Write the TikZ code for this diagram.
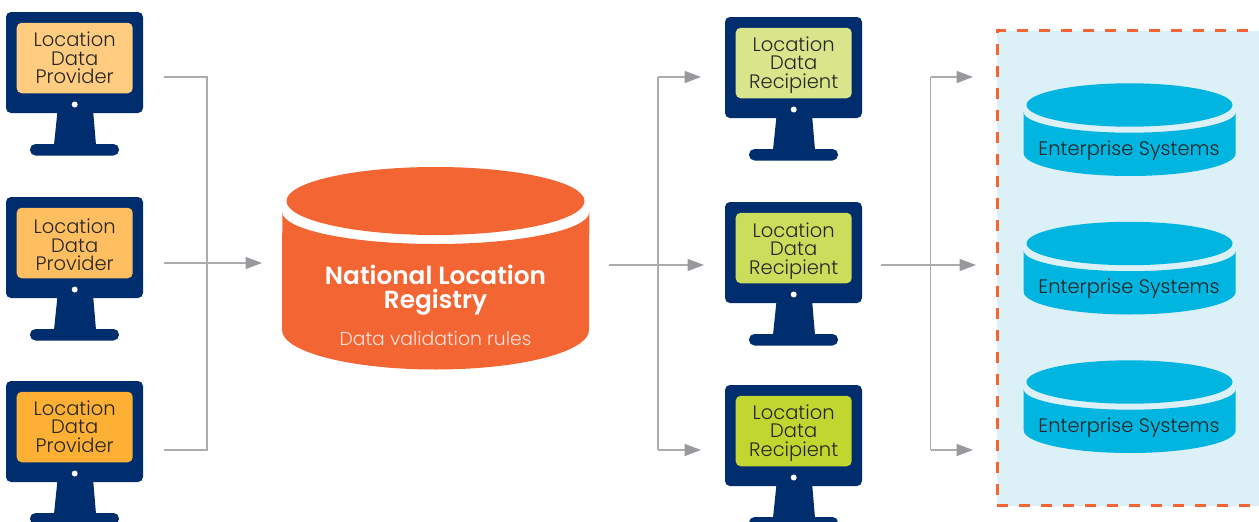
\documentclass[tikz,border=0pt]{standalone}
\usepackage{fontspec}
\setmainfont{Poppins}[UprightFont=* Light,BoldFont=* SemiBold]
\usetikzlibrary{arrows.meta}
\definecolor{navy}{HTML}{002D6D}
\definecolor{regorange}{HTML}{F46534}
\definecolor{entblue}{HTML}{00B5E0}
\definecolor{panelblue}{HTML}{DCF0F8}
\definecolor{wiregrey}{HTML}{ABACAE}
\definecolor{tipgrey}{HTML}{97999C}
\definecolor{provA}{HTML}{FFCC80}
\definecolor{provB}{HTML}{FFBF60}
\definecolor{provC}{HTML}{FDB033}
\definecolor{recA}{HTML}{D9E58A}
\definecolor{recB}{HTML}{CCDD5B}
\definecolor{recC}{HTML}{C1D72F}
\tikzset{
    wire/.style={draw=wiregrey,line width=1.5pt},
    wirearrow/.style={wire,-{Triangle[length=16.5pt,width=12pt,color=tipgrey]}},
    screentext/.style={text=black!85,align=center,font=\fontsize{19.5}{18.5}\selectfont},
    pics/monitor/.style n args={3}{code={
        \fill[navy,rounded corners=5pt] (6,12) rectangle (143,113);
        \fill[navy] (57.3,113) -- (93.3,113) -- (96,145) -- (54,145) -- cycle;
        \fill[navy,rounded corners=5.5pt] (30,144) rectangle (119,155.5);
        \fill[white] (74.7,104.5) circle (3);
        \node[fill=#1,rounded corners=5pt,minimum width=116pt,minimum height=70.5pt,
            inner sep=0pt] (-screen) at (74.7,58) {};
        \node[screentext,inner sep=0pt] (-label) at (74.7,#3) {Location\\Data\\#2};
    }},
}
\begin{document}
\begin{tikzpicture}[x=1pt,y=-1pt]
    \clip (0,0) rectangle (1259,522);

    \foreach \i/\dy/\col/\ty in {1/0/provA/58,2/185/provB/60,3/369/provC/57.5} {
        \pic (prov\i) at (0,\dy) {monitor={\col}{Provider}{\ty}};
    }
    \foreach \i/\dy/\col/\ty in {1/5/recA/60,2/190/recB/61,3/373/recC/60} {
        \pic (rec\i) at (719,\dy) {monitor={\col}{Recipient}{\ty}};
    }

    % registry drum
    \fill[regorange] (282.3,212) arc[start angle=180,end angle=0,x radius=153.5,y radius=32]
        -- (589,330) arc[start angle=0,end angle=180,x radius=153.5,y radius=39.5] -- cycle;
    \fill[regorange] (435.5,201) ellipse (149 and 34);
    \node[text=white,align=center,font=\fontsize{24.8}{24}\selectfont\bfseries] (registry) at (435.5,290.5)
        {National Location\\Registry};
    \node[text=white!82!regorange,font=\fontsize{18.8}{20}\selectfont] (rules) at (435.5,338.5)
        {Data validation rules};

    % enterprise panel
    \fill[panelblue] (997,30.5) rectangle (1270,505.5);
    \draw[regorange,line width=3pt,dash pattern=on 11pt off 11pt] (1270,30.5) -- (997,30.5) -- (997,505.5) -- (1270,505.5);

    \foreach \i/\dy in {1/0,2/138.5,3/277} {
        \begin{scope}[shift={(0,\dy)}]
            \fill[entblue] (1023.7,112.3) arc[start angle=180,end angle=0,x radius=106,y radius=20.4]
                -- (1235.7,153.3) arc[start angle=0,end angle=180,x radius=106,y radius=22.7] -- cycle;
            \fill[entblue] (1129.5,105) ellipse (103 and 21.7);
            \node[screentext] (ent\i) at (1129,150.5) {Enterprise Systems};
        \end{scope}
    }

    \coordinate (provout1) at (164,77);
    \coordinate (provout2) at (164,263);
    \coordinate (provout3) at (164,450);
    \coordinate (provbus) at (207,263);
    \coordinate (regin) at (262,263);
    \draw[wire] (provout1) -- (provbus|-provout1) -- (provbus|-provout3) -- (provout3);
    \draw[wirearrow] (provout2) -- (regin);

    \coordinate (regout) at (609,265);
    \coordinate (recbus) at (658,265);
    \coordinate (recin1) at (701,77);
    \coordinate (recin2) at (704,265);
    \coordinate (recin3) at (701,450);
    \draw[wirearrow] (recin1-|recbus) -- (recin1);
    \draw[wirearrow] (recin3-|recbus) -- (recin3);
    \draw[wire] (recin1-|recbus) -- (recin3-|recbus);
    \draw[wirearrow] (regout) -- (recin2);

    \coordinate (recout) at (881,265);
    \coordinate (entbus) at (930.5,265);
    \coordinate (entin1) at (973,77);
    \coordinate (entin2) at (976,265);
    \coordinate (entin3) at (973,450);
    \draw[wirearrow] (entin1-|entbus) -- (entin1);
    \draw[wirearrow] (entin3-|entbus) -- (entin3);
    \draw[wire] (entin1-|entbus) -- (entin3-|entbus);
    \draw[wirearrow] (recout) -- (entin2);
\end{tikzpicture}
\end{document}
